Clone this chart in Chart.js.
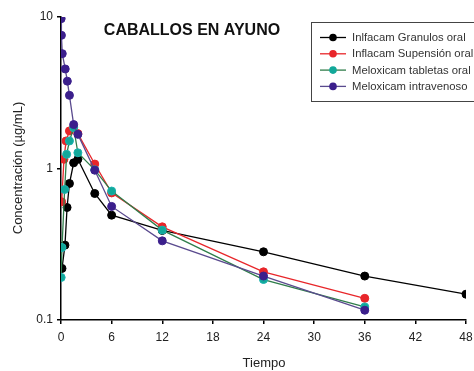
<!DOCTYPE html>
<html lang="es">
<head>
<meta charset="UTF-8">
<script src="https://cdn.jsdelivr.net/npm/chart.js@4.4.0/dist/chart.umd.min.js"></script>
<title>Caballos en ayuno</title>
<style>
  body { margin: 0; background: #fff; }
  #wrap { width: 474px; height: 371px; position: relative; }
</style>
</head>
<body>
<div id="wrap"><canvas id="pkChart" width="474" height="371"></canvas></div>
<script>
// tiempos (h) y concentraciones (µg/mL)
const granulosT = [0.12, 0.47, 0.72, 1, 1.5, 2, 4, 6, 12, 24, 36, 48];
const granulosC = [0.219, 0.312, 0.553, 0.796, 1.09, 1.15, 0.684, 0.492, 0.39, 0.282, 0.195, 0.148];

const suspensionT = [0.08, 0.35, 0.6, 1, 1.5, 2, 4, 6, 12, 24, 36];
const suspensionC = [0.603, 1.15, 1.52, 1.77, 1.88, 1.7, 1.07, 0.69, 0.412, 0.208, 0.139];

const tabletasT = [0.02, 0.12, 0.43, 0.67, 1, 1.5, 2, 4, 6, 12, 24, 36];
const tabletasC = [0.191, 0.301, 0.727, 1.24, 1.52, 1.86, 1.27, 0.98, 0.71, 0.392, 0.185, 0.122];

const ivT = [0.02, 0.05, 0.15, 0.5, 0.75, 1, 1.5, 2, 4, 6, 12, 24, 36];
const ivC = [9.75, 7.57, 5.73, 4.54, 3.77, 3.04, 1.95, 1.68, 0.975, 0.562, 0.333, 0.195, 0.116];

const seriesNames = ["Inlfacam Granulos oral", "Inflacam Supensión oral", "Meloxicam tabletas oral", "Meloxicam intravenoso"];
const xTicks = [0, 6, 12, 18, 24, 30, 36, 42, 48];
const yTicks = [0.1, 1, 10];

function pts(t, c) {
  return t.map(function (v, i) { return { x: v, y: c[i] }; });
}

const lineColors = ["#000000", "#e8262a", "#2f7d4a", "#5a4a8e"];
const dotColors = ["#000000", "#e8262a", "#12a89a", "#3b1f8c"];
const dotBorders = ["#000000", "#e8262a", "#1bb3b0", "#3b1f8c"];

const seriesData = [
  pts(granulosT, granulosC),
  pts(suspensionT, suspensionC),
  pts(tabletasT, tabletasC),
  pts(ivT, ivC)
];
const drawOrder = [3, 2, 1, 0];

// titulo, leyenda y titulos de ejes dibujados a mano
const extras = {
  id: "extras",
  afterDraw(chart) {
    const ctx = chart.ctx;
    ctx.save();
    ctx.fillStyle = "#111";
    ctx.font = "bold 16px 'Liberation Sans', Arial, sans-serif";
    ctx.textAlign = "center";
    ctx.textBaseline = "middle";
    ctx.fillText("CABALLOS EN AYUNO", 192, 31);

    ctx.font = "13px 'Liberation Sans', Arial, sans-serif";
    ctx.fillStyle = "#222";
    ctx.fillText("Tiempo", 264, 363);
    ctx.translate(18, 168);
    ctx.rotate(-Math.PI / 2);
    ctx.fillText("Concentración (µg/mL)", 0, 0);
    ctx.restore();

    // leyenda
    ctx.save();
    ctx.fillStyle = "#fff";
    ctx.fillRect(311.5, 22.5, 170, 79);
    ctx.strokeStyle = "#444";
    ctx.lineWidth = 1;
    ctx.strokeRect(311.5, 22.5, 170, 79);
    ctx.font = "11.3px 'Liberation Sans', Arial, sans-serif";
    ctx.textAlign = "left";
    ctx.textBaseline = "middle";
    seriesNames.forEach(function (name, i) {
      const y = 37.5 + i * 16.3;
      ctx.strokeStyle = lineColors[i];
      ctx.lineWidth = 1.3;
      ctx.beginPath();
      ctx.moveTo(320, y);
      ctx.lineTo(346, y);
      ctx.stroke();
      ctx.beginPath();
      ctx.arc(333, y, 3.8, 0, Math.PI * 2);
      ctx.fillStyle = dotColors[i];
      ctx.fill();
      ctx.fillStyle = "#333";
      ctx.fillText(name, 352, y + 0.5);
    });
    ctx.restore();
  }
};

new Chart("pkChart", {
  type: "scatter",
  data: {
    datasets: seriesData.map(function (d, i) {
      return {
        label: seriesNames[i],
        data: d,
        showLine: true,
        borderColor: lineColors[i],
        borderWidth: 1.3,
        backgroundColor: dotColors[i],
        pointBorderColor: dotBorders[i],
        pointBorderWidth: 1,
        pointRadius: 4,
        order: drawOrder[i]
      };
    })
  },
  options: {
    responsive: false,
    animation: false,
    layout: { padding: { left: 0, right: 0, top: 17, bottom: 0 } },
    plugins: {
      legend: { display: false },
      tooltip: { enabled: false }
    },
    scales: {
      x: {
        type: "linear",
        min: 0,
        max: 48,
        afterBuildTicks(scale) { scale.ticks = xTicks.map(function (v) { return { value: v }; }); },
        afterFit(scale) {
          scale.height = 51;
          scale.paddingLeft = 0;
          scale.paddingRight = 8;
        },
        ticks: { color: "#222", padding: 6, font: { size: 12, family: "'Liberation Sans', Arial, sans-serif" } },
        grid: { drawOnChartArea: false, drawTicks: true, tickLength: 4, color: "#000", lineWidth: 1.5 },
        border: { color: "#000", width: 1.5 }
      },
      y: {
        type: "logarithmic",
        min: 0.1,
        max: 10,
        afterBuildTicks(scale) { scale.ticks = yTicks.map(function (v) { return { value: v }; }); },
        afterFit(scale) { scale.width = 61; },
        ticks: {
          color: "#222",
          padding: 4,
          font: { size: 12, family: "'Liberation Sans', Arial, sans-serif" },
          callback: function (v) { return String(v); }
        },
        grid: { drawOnChartArea: false, drawTicks: true, tickLength: 4, color: "#000", lineWidth: 1.5 },
        border: { color: "#000", width: 1.5 }
      }
    }
  },
  plugins: [extras]
});
</script>
</body>
</html>
